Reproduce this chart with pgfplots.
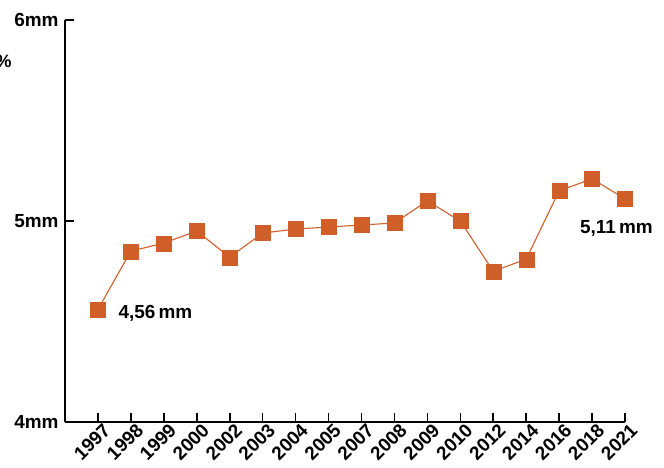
\documentclass[border=0pt]{standalone}
\usepackage{fontspec}
\setmainfont{Liberation Sans}
\usepackage{pgfplots}
\pgfplotsset{compat=1.18}
\definecolor{rust}{RGB}{208,94,40}

\begin{document}
\begin{tikzpicture}
\begin{axis}[
    name=ax,
    scale only axis,
    width=560bp, height=402bp,
    xmin=-1, xmax=16,
    ymin=4, ymax=6,
    axis lines=left,
    axis line style={-, line width=2.4pt, black},
    xtick={0,...,16},
    xticklabel={\fontsize{19}{19}\selectfont\bfseries\pgfmathparse{int(\tick)}\ifcase\pgfmathresult\relax 1997\or 1998\or 1999\or 2000\or 2002\or 2003\or 2004\or 2005\or 2007\or 2008\or 2009\or 2010\or 2012\or 2014\or 2016\or 2018\or 2021\fi},
    ytick={4,5,6},
    yticklabel={\fontsize{19}{19}\selectfont\bfseries\pgfmathparse{int(\tick)}\pgfmathresult mm},
    tick align=inside,
    major tick length=9bp,
    tick style={line width=1.6pt, black},
    x tick label style={rotate=45, anchor=north east, xshift=4bp, yshift=-2bp, inner sep=1bp},
    y tick label style={xshift=-3bp},
    clip=false,
]
\addplot[rust, line width=1.1pt, mark=square*, mark size=7.5bp,
    mark options={fill=rust, draw=rust, line width=0.2pt}]
coordinates {
(0,4.56) (1,4.85) (2,4.89) (3,4.95) (4,4.82) (5,4.94) (6,4.96) (7,4.97)
(8,4.98) (9,4.99) (10,5.10) (11,5.00) (12,4.75) (13,4.81) (14,5.15) (15,5.21) (16,5.11)
};
\node[anchor=west, font=\bfseries\fontsize{19}{19}\selectfont] at (axis cs:0.52,4.54) {4,56\,mm};
\node[anchor=west, font=\bfseries\fontsize{19}{19}\selectfont] at (axis cs:14.53,4.965) {5,11\,mm};
\end{axis}
\node[font=\bfseries\fontsize{18}{18}\selectfont, anchor=west] at ([xshift=-73bp,yshift=-41bp]ax.north west) {\%};
\pgfresetboundingbox
\path ([xshift=-65bp,yshift=-46bp]ax.south west) rectangle ([xshift=39bp,yshift=20bp]ax.north east);
\end{tikzpicture}
\end{document}
